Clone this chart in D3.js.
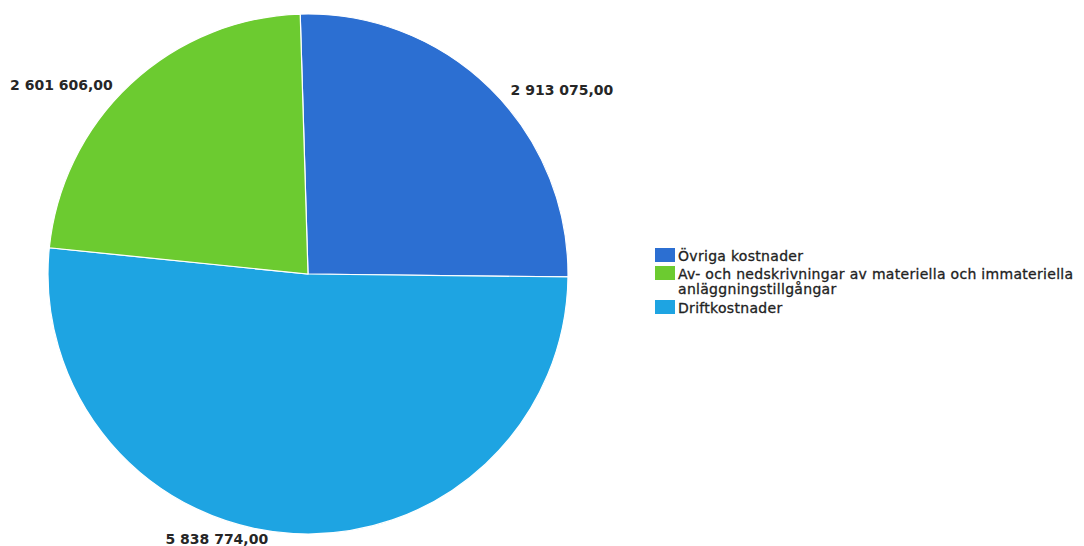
<!DOCTYPE html>
<html>
<head>
<meta charset="utf-8">
<script src="https://cdn.jsdelivr.net/npm/d3@7"></script>
<style>
  body { margin: 0; background: #fff; }
  text { font-family: "DejaVu Sans", Verdana, sans-serif; }
</style>
</head>
<body>
<div id="chart-area"></div>
<script>
// data
const categories = ["Övriga kostnader", "Av- och nedskrivningar av materiella och immateriella anläggningstillgångar", "Driftkostnader"];
const values = [2913075.00, 5838774.00, 2601606.00];
const legendLines = [["Övriga kostnader"], ["Av- och nedskrivningar av materiella och immateriella", "anläggningstillgångar"], ["Driftkostnader"]];
const labelText = ["2 913 075,00", "5 838 774,00", "2 601 606,00"];
const colors = ["#2c6fd2", "#6ccb30", "#1ea4e2"];

// canvas
const canvas = { width: 1084, height: 546 };
const center = { x: 308, y: 274 };
const radius = 260;

const svg = d3.select("#chart-area").append("svg").attr("width", canvas.width).attr("height", canvas.height);
const g = svg.append("g").attr("transform", "translate(" + center.x + "," + center.y + ")");

// slices clockwise from the top: Övriga, Drift, Av- och ned...
const slices = [
  { name: categories[0], value: values[0], color: colors[0], label: labelText[0] },
  { name: categories[2], value: values[1], color: colors[2], label: labelText[1] },
  { name: categories[1], value: values[2], color: colors[1], label: labelText[2] }
];

const pie = d3.pie().sort(null).value(d => d.value).startAngle(-0.03).endAngle(2 * Math.PI - 0.03);
const arc = d3.arc().innerRadius(0).outerRadius(radius);
const labelArc = d3.arc().innerRadius(radius + 22).outerRadius(radius + 22);

const arcs = pie(slices);

g.selectAll("path").data(arcs).enter().append("path")
  .attr("d", arc)
  .attr("fill", d => d.data.color)
  .attr("stroke", "#ffffff")
  .attr("stroke-width", 1.2);

// labels, anchored away from the pie
const labelOffset = [{ dx: 5, dy: 22 }, { dx: -24, dy: -12 }, { dx: -3, dy: 22 }];
g.selectAll("text.val").data(arcs).enter().append("text")
  .attr("class", "val")
  .attr("x", (d, i) => labelArc.centroid(d)[0] + labelOffset[i].dx)
  .attr("y", (d, i) => labelArc.centroid(d)[1] + labelOffset[i].dy)
  .attr("text-anchor", d => labelArc.centroid(d)[0] >= 0 ? "start" : "end")
  .attr("font-size", 14)
  .attr("font-weight", "bold")
  .attr("fill", "#262626")
  .text(d => d.data.label);

// legend
const legend = svg.append("g").attr("transform", "translate(655,248)");
let yPos = 0;
categories.forEach((c, i) => {
  const row = legend.append("g").attr("transform", "translate(0," + yPos + ")");
  row.append("rect").attr("x", 0).attr("y", 0).attr("width", 20).attr("height", 14).attr("fill", colors[i]);
  const t = row.append("text").attr("x", 23).attr("y", 13).attr("font-size", 14)
    .attr("letter-spacing", 0.3).attr("fill", "#222")
    .attr("stroke", "#222").attr("stroke-width", 0.3);
  legendLines[i].forEach((line, j) => {
    t.append("tspan").attr("x", 23).attr("dy", j === 0 ? 0 : 15).text(line);
  });
  yPos += 18 + (legendLines[i].length - 1) * 16;
});
</script>
</body>
</html>
